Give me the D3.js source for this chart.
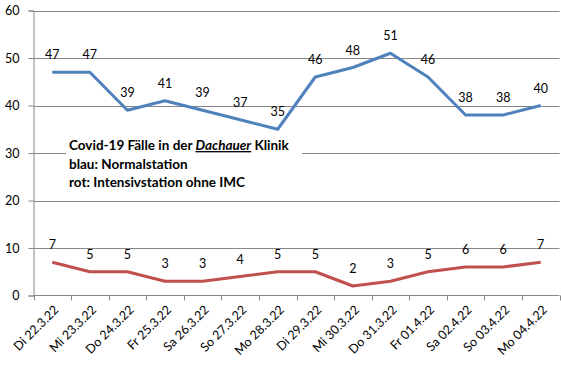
<head>
<meta charset="utf-8">
<style>
  body { margin: 0; background: #fff; }
  text { font-family: Lato, "Open Sans", sans-serif; }
</style>
<script src="https://cdn.jsdelivr.net/npm/d3@7"></script>
</head>
<body>
<div id="chart"></div>
<script>
// data
var days = ["Di 22.3.22", "Mi 23.3.22", "Do 24.3.22", "Fr 25.3.22", "Sa 26.3.22", "So 27.3.22", "Mo 28.3.22",
            "Di 29.3.22", "Mi 30.3.22", "Do 31.3.22", "Fr 01.4.22", "Sa 02.4.22", "So 03.4.22", "Mo 04.4.22"];
var normal = [47, 47, 39, 41, 39, 37, 35, 46, 48, 51, 46, 38, 38, 40];
var intensiv = [7, 5, 5, 3, 3, 4, 5, 5, 2, 3, 5, 6, 6, 7];
var yTicks = [0, 10, 20, 30, 40, 50, 60];

var W = 561, H = 373;
var mLeft = 33.5, mRight = 559.5, mTop = 10.5, mBottom = 295.5;

var svg = d3.select("#chart").append("svg")
    .attr("width", W)
    .attr("height", H);

var x = d3.scaleBand()
    .domain(days)
    .range([mLeft, mRight]);

var y = d3.scaleLinear()
    .domain([0, 60])
    .range([mBottom, mTop]);

// gridlines
svg.append("g")
    .selectAll("line")
    .data(yTicks.filter(d => d > 0))
    .enter()
    .append("line")
    .attr("x1", mLeft)
    .attr("x2", mRight)
    .attr("y1", d => Math.round(y(d)) + 0.5)
    .attr("y2", d => Math.round(y(d)) + 0.5)
    .attr("stroke", "#868686")
    .attr("stroke-width", 1);

// y axis
var yx = svg.append("g")
    .attr("transform", "translate(" + mLeft + ",0)")
    .call(d3.axisLeft(y).tickValues(yTicks).tickSize(5).tickPadding(9));
yx.selectAll("path, line").attr("stroke", "#868686");
yx.selectAll("text").attr("font-size", "12.5px").attr("fill", "#000")
    .attr("font-family", "Lato, sans-serif");

// x axis: ticks between categories like excel
var xx = svg.append("g")
    .attr("transform", "translate(0," + (Math.round(mBottom - 0.5) + 0.5) + ")");
xx.append("line")
    .attr("x1", mLeft).attr("x2", mRight)
    .attr("stroke", "#868686");
xx.selectAll(".tk")
    .data(days.concat(["end"]))
    .enter()
    .append("line")
    .attr("class", "tk")
    .attr("x1", (d, i) => Math.round(mLeft + i * x.bandwidth()) + 0.5)
    .attr("x2", (d, i) => Math.round(mLeft + i * x.bandwidth()) + 0.5)
    .attr("y1", 0).attr("y2", 5)
    .attr("stroke", "#868686");
xx.selectAll("text")
    .data(days)
    .enter()
    .append("text")
    .attr("transform", d => "translate(" + (x(d) + x.bandwidth() / 2 + 4) + ",12) rotate(-45)")
    .attr("text-anchor", "end")
    .attr("dominant-baseline", "central")
    .attr("font-size", "12.5px")
    .attr("fill", "#000")
    .text(d => d);

// text box
var note = svg.append("g");
note.append("rect")
    .attr("x", 66).attr("y", 135)
    .attr("width", 236).attr("height", 60)
    .attr("fill", "#fff");
var t1 = note.append("text")
    .attr("x", 69).attr("y", 150)
    .attr("font-size", "13.5px")
    .attr("font-weight", "bold")
    .attr("fill", "#000");
t1.append("tspan").text("Covid-19 Fälle in der ");
t1.append("tspan").attr("font-style", "italic").attr("text-decoration", "underline").text("Dachauer");
t1.append("tspan").text(" Klinik");
note.append("text")
    .attr("x", 69).attr("y", 168.5)
    .attr("font-size", "13.5px").attr("font-weight", "bold")
    .text("blau: Normalstation");
note.append("text")
    .attr("x", 69).attr("y", 187)
    .attr("font-size", "13.5px").attr("font-weight", "bold")
    .text("rot: Intensivstation ohne IMC");

// lines + labels
function addSeries(vals, col) {
    var g = svg.append("g");
    g.append("path")
        .datum(vals)
        .attr("fill", "none")
        .attr("stroke", col)
        .attr("stroke-width", 3)
        .attr("stroke-linejoin", "round")
        .attr(
            "d",
            d3.line()
                .x((d, i) => x(days[i]) + x.bandwidth() / 2)
                .y(d => y(d))
        );
    g.selectAll("text")
        .data(vals)
        .enter()
        .append("text")
        .attr("x", (d, i) => x(days[i]) + x.bandwidth() / 2)
        .attr("y", d => y(d) - 13)
        .attr("text-anchor", "middle")
        .attr("font-size", "12.5px")
        .attr("fill", "#000")
        .text(d => d);
}

addSeries(normal, "#4F81BD");
addSeries(intensiv, "#C0504D");
</script>
</body>
